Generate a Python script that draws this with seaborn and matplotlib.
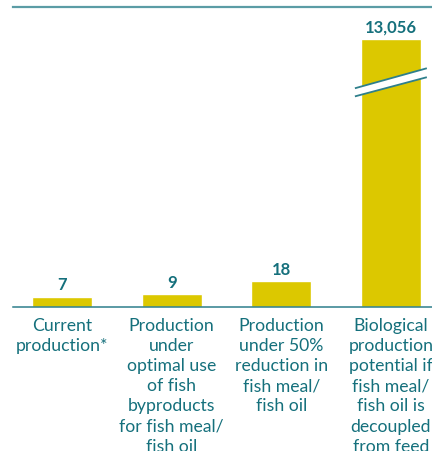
import matplotlib
matplotlib.use("Agg")
import matplotlib.pyplot as plt
import seaborn as sns
import pandas as pd
import numpy as np

categories = [
    "Current\nproduction*",
    "Production\nunder\noptimal use\nof fish\nbyproducts\nfor fish meal/\nfish oil",
    "Production\nunder 50%\nreduction in\nfish meal/\nfish oil",
    "Biological\nproduction\npotential if\nfish meal/\nfish oil is\ndecoupled\nfrom feed",
]
values = [7, 9, 18, 13056]
value_labels = ["7", "9", "18", "13,056"]

# visual cap for the broken (off-scale) bar
CAP = 191
display = [min(v, CAP) for v in values]

df = pd.DataFrame({"cat": categories, "shown": display})

sns.set_theme(style="white")
plt.rcParams["font.family"] = ["Lato", "DejaVu Sans"]

BAR = "#DCC800"
TEAL = "#15707C"
LINE_TOP = "#5B9CA5"
LINE_BOT = "#2E7F8B"

fig = plt.figure(figsize=(4.32, 4.51), dpi=100)
ax = fig.add_axes([13 / 432, (451 - 306.7) / 451, 1 - 13 / 432, (306.7 - 6.5) / 451])

sns.barplot(data=df, x="cat", y="shown", color=BAR, saturation=1, width=0.547, ax=ax)

ax.set_xlim(-0.447, 3.374)
ax.set_ylim(0, 214.4)

for s in ["left", "right"]:
    ax.spines[s].set_visible(False)
ax.spines["top"].set_color(LINE_TOP)
ax.spines["top"].set_linewidth(1.6)
ax.spines["bottom"].set_color(LINE_BOT)
ax.spines["bottom"].set_linewidth(1.1)
ax.set_yticks([])
ax.set_xticks([])
ax.set_xlabel("")
ax.set_ylabel("")

for i, (d, lab) in enumerate(zip(display, value_labels)):
    ax.annotate(lab, (i, d), xytext=(0, 2.5), textcoords="offset points",
                ha="center", va="bottom", fontsize=12, fontweight="bold", color=TEAL)

for i, c in enumerate(categories):
    ax.annotate(c, (i, 0), xytext=(0, -8), textcoords="offset points",
                ha="center", va="top", fontsize=12.7, color=TEAL, linespacing=1.32,
                annotation_clip=False)

# break marks on the off-scale bar
for i, v in enumerate(values):
    if v > CAP:
        x0, x1 = i - 0.329, i + 0.327
        y_up0, y_up1 = 156.0, 170.3
        y_lo0, y_lo1 = 150.2, 163.9
        ax.fill([x0, x1, x1, x0], [y_lo0, y_lo1, y_up1, y_up0], color="white", zorder=5, lw=0)
        ax.plot([x0, x1], [y_up0, y_up1], color=LINE_BOT, lw=1.3, zorder=6, solid_capstyle="butt")
        ax.plot([x0, x1], [y_lo0, y_lo1], color=LINE_BOT, lw=1.3, zorder=6, solid_capstyle="butt")

fig.savefig("out.png", dpi=100)
